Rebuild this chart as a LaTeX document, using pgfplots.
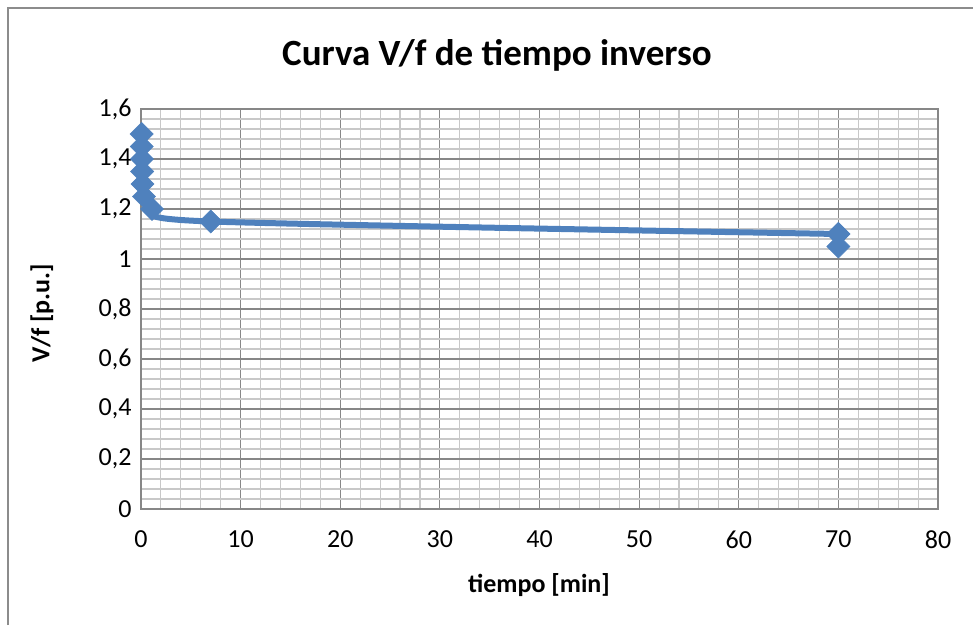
\documentclass[border=0pt]{standalone}
\usepackage{pgfplots}
\pgfplotsset{compat=1.18}
\usepackage{fontspec}
\setmainfont{Carlito}
\definecolor{exblue}{HTML}{4F81BD}
\definecolor{majgrid}{HTML}{878787}
\definecolor{mingrid}{HTML}{C8C8C8}
\definecolor{frame}{HTML}{8C8C8C}
\begin{document}
\begin{tikzpicture}[x=1pt,y=1pt]
\useasboundingbox (0,0) rectangle (973,625);
\draw[frame,line width=1.2pt] (8,0) -- (8,617) -- (973,617);
\begin{axis}[
  at={(141pt,116pt)}, anchor=south west,
  scale only axis, width=797pt, height=400pt,
  xmin=0, xmax=80, ymin=0, ymax=1.6,
  xtick={0,10,...,80},
  xticklabels={0,10,20,30,40,50,60,70,80},
  ytick={0,0.2,...,1.6},
  yticklabels={0,{0,2},{0,4},{0,6},{0,8},1,{1,2},{1,4},{1,6}},
  minor x tick num=4, minor y tick num=4,
  grid=both,
  major grid style={majgrid, line width=1.1pt},
  minor grid style={mingrid, line width=1.1pt},
  axis line style={majgrid, line width=1.1pt},
  tick style={draw=none},
  ticklabel style={font=\fontsize{26}{31}\selectfont, text=black},
  xticklabel style={yshift=-18pt},
  yticklabel style={xshift=-6pt},
  clip=false,
]
\addplot[exblue, line width=6pt, smooth, tension=0.45,
  mark=square*, mark size=8.2pt,
  mark options={rotate=45, fill=exblue, draw=exblue, line width=0.5pt, solid}]
  coordinates {
  (0.07,1.50) (0.08,1.45) (0.1,1.40) (0.12,1.35) (0.15,1.30)
  (0.3,1.25) (1.1,1.20) (7,1.15) (70,1.10)
  };
\addplot[exblue, line width=6pt,
  mark=square*, mark size=8.2pt,
  mark options={rotate=45, fill=exblue, draw=exblue, line width=0.5pt, solid}]
  coordinates {(70,1.10) (70,1.05)};
\end{axis}
\node[font=\bfseries\fontsize{37}{44}\selectfont] at (497,570) {Curva V/f de tiempo inverso};
\node[font=\bfseries\fontsize{26}{31}\selectfont] at (539,40) {tiempo [min]};
\node[font=\bfseries\fontsize{26}{31}\selectfont, rotate=90] at (42,312) {V/f [p.u.]};
\end{tikzpicture}
\end{document}
